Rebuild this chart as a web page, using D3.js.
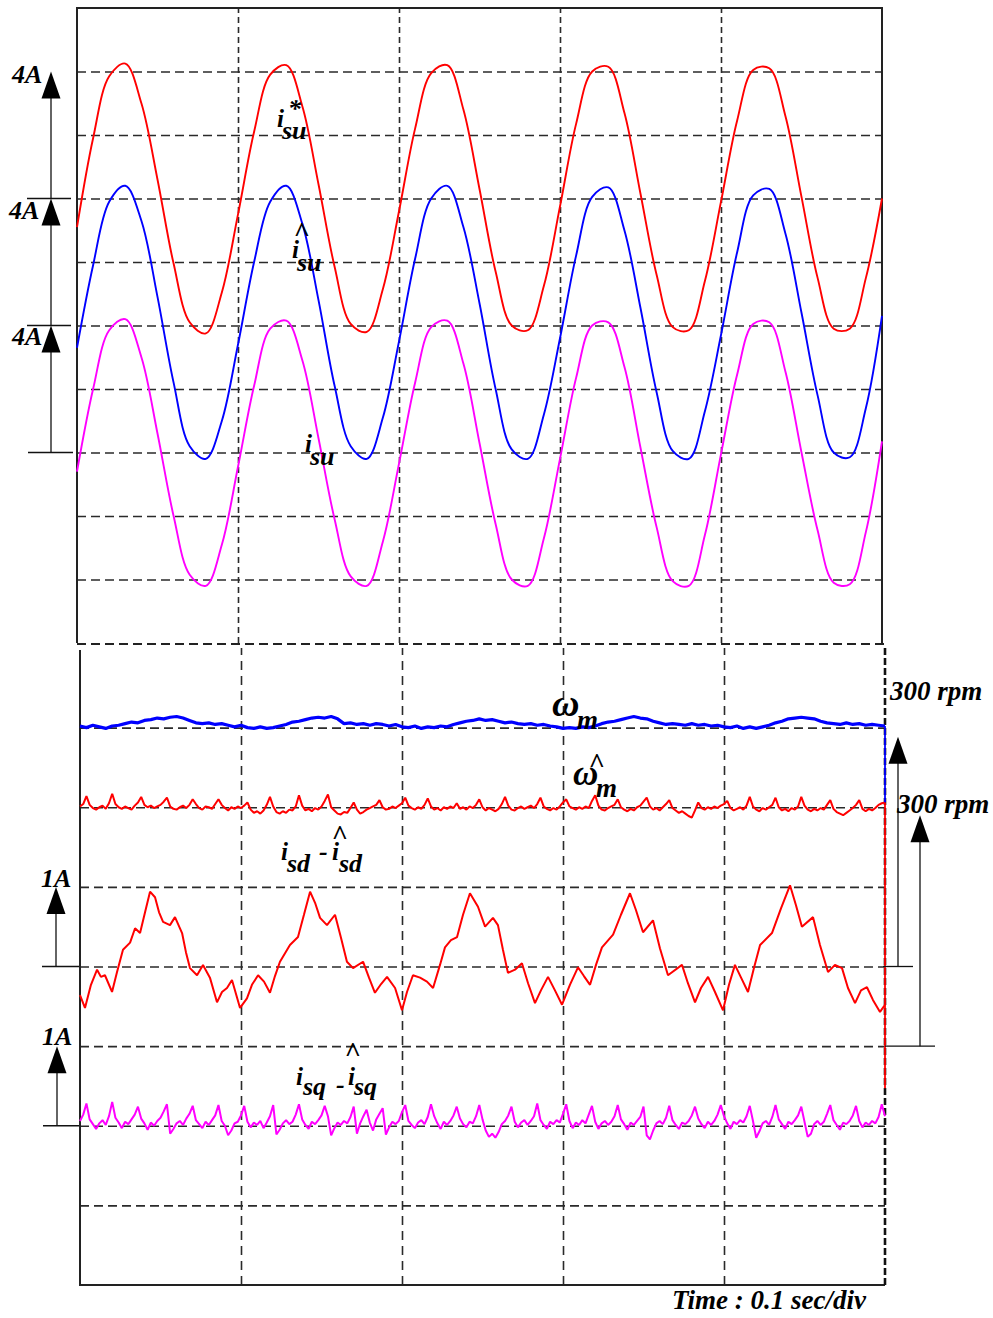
<!DOCTYPE html>
<html>
<head>
<meta charset="utf-8">
<script src="https://cdn.jsdelivr.net/npm/d3@7/dist/d3.min.js"></script>
<style>
body { margin: 0; background: white; }
</style>
</head>
<body>
<div id="scope"></div>
<script>
const width = 993;
const height = 1318;
const serif = "'Liberation Serif', 'Times New Roman', serif";

// sample times in ms
const tSine = [0,10,20,30,40,50,60,70,80,90,100,110,120,130,140,150,160,170,180,190,200,
  210,220,230,240,250,260,270,280,290,300,310,320,330,340,350,360,370,380,390,400,
  410,420,430,440,450,460,470,480,490,500];

const tNoise = [0,4,8,12,16,20,24,28,32,36,40,44,48,52,56,60,64,68,72,76,80,84,88,92,96,
  100,104,108,112,116,120,124,128,132,136,140,144,148,152,156,160,164,168,172,176,180,184,188,192,196,
  200,204,208,212,216,220,224,228,232,236,240,244,248,252,256,260,264,268,272,276,280,284,288,292,296,
  300,304,308,312,316,320,324,328,332,336,340,344,348,352,356,360,364,368,372,376,380,384,388,392,396,
  400,404,408,412,416,420,424,428,432,436,440,444,448,452,456,460,464,468,472,476,480,484,488,492,496,500];

const tFine = [0,2,4,6,8,10,12,14,16,18,20,22,24,26,28,30,32,34,36,38,40,42,44,46,48,
  50,52,54,56,58,60,62,64,66,68,70,72,74,76,78,80,82,84,86,88,90,92,94,96,98,
  100,102,104,106,108,110,112,114,116,118,120,122,124,126,128,130,132,134,136,138,140,142,144,146,148,
  150,152,154,156,158,160,162,164,166,168,170,172,174,176,178,180,182,184,186,188,190,192,194,196,198,
  200,202,204,206,208,210,212,214,216,218,220,222,224,226,228,230,232,234,236,238,240,242,244,246,248,
  250,252,254,256,258,260,262,264,266,268,270,272,274,276,278,280,282,284,286,288,290,292,294,296,298,
  300,302,304,306,308,310,312,314,316,318,320,322,324,326,328,330,332,334,336,338,340,342,344,346,348,
  350,352,354,356,358,360,362,364,366,368,370,372,374,376,378,380,382,384,386,388,390,392,394,396,398,
  400,402,404,406,408,410,412,414,416,418,420,422,424,426,428,430,432,434,436,438,440,442,444,446,448,
  450,452,454,456,458,460,462,464,466,468,470,472,474,476,478,480,482,484,486,488,490,492,494,496,498,500];

// phase currents (A)
const isuRef = [-0.9,1.9,3.85,4.25,3.0,0.6,-2.05,-3.9,-4.25,-2.95,-0.5,2.1,3.9,4.2,2.9,0.45,-2.15,-3.95,-4.2,-2.85,
  -0.4,2.2,3.95,4.2,2.8,0.3,-2.3,-4.0,-4.15,-2.75,-0.25,2.35,4.0,4.15,2.7,0.15,-2.4,-4.05,-4.15,-2.6,
  -0.1,2.45,4.05,4.1,2.6,0.05,-2.5,-4.1,-4.1,-2.5,0.0];
const isuEst = [-0.7,1.9,3.9,4.4,3.3,0.9,-1.8,-3.8,-4.2,-3.0,-0.6,2.0,3.9,4.4,3.2,0.8,-1.9,-3.8,-4.2,-2.9,
  -0.5,2.1,4.0,4.4,3.1,0.7,-2.0,-3.9,-4.2,-2.8,-0.4,2.2,4.05,4.35,3.0,0.55,-2.1,-3.95,-4.2,-2.7,
  -0.3,2.3,4.1,4.3,2.9,0.4,-2.2,-4.0,-4.15,-2.6,0.3];
const isu = [-0.6,2.0,3.85,4.2,3.0,0.6,-2.0,-3.85,-4.2,-2.9,-0.45,2.1,3.9,4.15,2.9,0.45,-2.1,-3.9,-4.2,-2.8,
  -0.35,2.2,3.95,4.15,2.8,0.3,-2.25,-4.0,-4.2,-2.7,-0.2,2.35,4.0,4.1,2.7,0.15,-2.35,-4.05,-4.2,-2.6,
  -0.05,2.45,4.05,4.1,2.55,0.0,-2.45,-4.1,-4.15,-2.5,0.35];

// speeds (rpm)
const wm = [302,300,303,301,299,302,303,305,307,306,309,310,312,311,313,314,312,309,306,305,
  306,304,305,303,301,303,300,299,301,299,300,302,304,307,308,310,312,313,312,314,
  311,305,306,304,305,303,305,304,302,304,301,300,302,299,301,300,302,301,304,306,
  308,309,311,309,310,308,306,307,305,304,305,303,304,302,301,299,300,299,301,300,
  302,305,307,308,310,312,314,312,311,308,306,304,305,304,303,305,303,304,302,303,
  301,300,302,299,301,299,301,303,306,308,311,312,313,312,311,308,306,305,304,306,
  304,305,303,304,303,302];
const wmEst = [301,304,314,303,299,297,300,302,298,305,317,304,300,298,301,299,297,302,306,313,303,300,302,299,301,
  303,307,312,301,298,297,300,302,299,303,310,304,299,297,301,300,298,304,310,303,299,296,300,298,301,
  299,302,306,297,293,295,292,296,303,313,301,294,292,295,293,297,296,301,315,302,296,298,295,299,297,
  301,308,316,300,296,292,291,294,293,299,306,297,292,294,297,299,301,303,309,300,297,298,301,299,302,
  305,312,302,299,297,300,298,303,311,301,297,299,296,300,298,301,299,305,298,300,297,301,299,303,310,
  300,296,299,297,295,298,304,313,302,297,296,299,301,298,300,302,299,304,312,301,298,296,299,297,301,
  306,310,301,299,297,300,298,301,299,308,315,302,297,296,299,301,303,310,300,297,295,298,296,300,302,
  307,312,301,297,299,296,300,304,309,299,296,293,295,292,289,287,296,306,299,297,300,298,301,299,302,
  304,308,299,296,298,300,297,302,313,301,297,295,299,297,300,303,312,300,296,298,295,299,297,301,313,
  302,297,295,298,296,299,297,303,309,298,294,292,290,293,296,299,303,309,298,295,298,296,299,303,305,306];

// current errors (A)
const isdErr = [[0,-0.36],[3.1,-0.52],[6.8,-0.23],[10.6,-0.04],[13.0,-0.13],[15.5,-0.11],[19.9,-0.32],[23.0,-0.07],
  [26.7,0.21],[31.1,0.30],[34.2,0.48],[37.3,0.42],[40.4,0.68],[43.5,0.94],[46.6,0.87],[49.1,0.68],[51.6,0.56],
  [55.9,0.52],[59.0,0.62],[63.4,0.42],[65.8,0.18],[68.3,-0.02],[72.7,-0.11],[76.4,0.02],[80.7,-0.14],[85.1,-0.45],
  [88.2,-0.32],[91.3,-0.27],[94.4,-0.17],[99.4,-0.52],[103.7,-0.40],[106.8,-0.23],[110.6,-0.11],[114.3,-0.19],
  [118.0,-0.33],[121.1,-0.12],[124.2,0.06],[130.4,0.27],[135.4,0.37],[139.1,0.65],[142.9,0.94],[146.0,0.80],
  [149.1,0.61],[153.4,0.52],[158.4,0.65],[162.1,0.36],[165.8,0.06],[169.6,-0.02],[175.8,0.06],[179.5,-0.14],
  [183.2,-0.33],[187.0,-0.22],[190.7,-0.13],[195.7,-0.27],[200.0,-0.55],[203.1,-0.32],[206.8,-0.11],[211.2,-0.14],
  [215.5,-0.19],[219.3,-0.27],[223.6,0.02],[226.7,0.24],[230.4,0.33],[234.2,0.37],[237.9,0.65],[242.2,0.92],
  [247.2,0.75],[251.6,0.50],[256.5,0.61],[259.6,0.52],[262.7,0.21],[265.8,-0.08],[270.2,-0.04],[274.5,0.04],
  [278.3,-0.21],[282.6,-0.46],[286.3,-0.30],[290.7,-0.13],[295.0,-0.30],[299.4,-0.48],[304.3,-0.23],[309.3,-0.01],
  [313.0,-0.12],[316.8,-0.23],[320.5,0.02],[324.2,0.24],[331.1,0.40],[336.0,0.65],[341.6,0.92],[345.3,0.71],
  [349.7,0.43],[355.9,0.58],[360.2,0.23],[365.2,-0.11],[373.9,0.02],[377.6,-0.21],[382.0,-0.45],[385.7,-0.27],
  [390.1,-0.13],[394.4,-0.32],[399.4,-0.55],[403.1,-0.23],[406.8,0.02],[410.6,-0.14],[414.9,-0.32],[418.6,-0.02],
  [422.4,0.27],[429.8,0.42],[435.4,0.73],[441.0,1.02],[444.7,0.77],[448.4,0.50],[455.3,0.62],[459.6,0.27],
  [464.6,-0.07],[468.9,0.02],[473.3,-0.02],[477.0,-0.27],[481.4,-0.46],[485.1,-0.30],[488.8,-0.26],[492.5,-0.42],
  [496.9,-0.57],[500,-0.48]];
const isqErr = [0.06,0.14,0.28,0.08,0.02,-0.04,0.03,0.07,0.01,0.12,0.30,0.10,0.04,-0.03,0.05,0.02,0.08,0.14,0.24,0.09,0.03,-0.05,0.04,0.00,0.06,
  0.10,0.18,0.27,-0.10,-0.04,0.03,0.06,0.01,0.09,0.15,0.25,0.07,0.02,-0.03,0.05,0.01,0.07,0.13,0.26,0.06,0.00,-0.12,-0.06,0.03,0.05,
  0.13,0.25,0.05,-0.02,0.04,0.01,0.06,-0.03,0.04,0.12,0.26,-0.11,-0.05,0.03,0.07,0.02,0.05,0.14,0.27,0.08,0.01,-0.04,0.05,0.02,0.07,
  0.13,0.25,0.12,-0.12,-0.03,0.04,0.01,0.06,0.03,0.11,0.24,-0.10,0.03,0.12,0.20,0.04,-0.06,0.08,0.15,0.22,-0.11,-0.02,0.05,0.02,0.06,
  0.17,0.26,0.06,0.01,-0.03,0.04,0.07,0.02,0.11,0.27,0.12,0.03,-0.04,0.05,0.01,0.06,0.13,0.24,0.09,0.02,-0.02,0.05,0.03,0.12,0.26,
  0.08,-0.06,-0.14,-0.10,-0.15,-0.08,0.02,0.06,0.13,0.24,0.05,-0.02,0.04,0.07,0.01,0.06,0.12,0.28,0.07,0.01,-0.04,0.05,0.02,0.07,0.04,
  0.15,0.27,0.06,-0.03,0.04,0.01,0.07,0.03,0.14,0.25,0.05,-0.04,0.03,0.06,0.01,0.05,0.12,0.26,0.08,0.02,-0.05,0.04,0.01,0.06,0.11,
  0.24,-0.12,-0.17,-0.06,0.03,0.06,0.02,0.10,0.25,0.07,0.01,-0.04,0.04,0.02,0.06,0.13,0.24,0.09,0.02,-0.03,0.05,0.01,0.06,0.14,0.26,
  0.12,0.03,-0.04,0.05,0.02,0.07,0.04,0.12,0.25,0.06,-0.15,-0.07,0.03,0.06,0.01,0.11,0.26,0.08,0.02,-0.04,0.05,0.02,0.07,0.13,0.24,
  0.05,-0.14,-0.10,0.02,0.06,0.01,0.05,0.15,0.26,0.07,0.01,-0.05,0.04,0.02,0.06,0.13,0.25,0.06,-0.02,0.04,0.01,0.06,0.03,0.11,0.27,0.12];

const svg = d3.select('#scope')
              .append('svg')
              .attr('width', width)
              .attr('height', height)
              .style('background', 'white');

// top panel: 2 A/div, 10 divisions
const xTop = d3.scaleLinear().domain([0, 500]).range([77, 882]);
const yTop = d3.scaleLinear().domain([0, 20]).range([643, 8]);

// bottom panel: 8 divisions (100 rpm/div, 1 A/div)
const xBot = d3.scaleLinear().domain([0, 500]).range([80, 885]);
const yBot = d3.scaleLinear().domain([0, 8]).range([1285, 648]);

function grid(g, dash) {
    g.select('.domain').remove();
    g.selectAll('.tick line')
     .attr('stroke', '#2a2a2a')
     .attr('stroke-width', 1.6)
     .attr('stroke-dasharray', dash);
}

svg.append('g')
   .attr('transform', `translate(${xTop(0)},0)`)
   .call(d3.axisLeft(yTop).tickValues([2,4,6,8,10,12,14,16,18]).tickSize(-(xTop(500) - xTop(0))).tickFormat(''))
   .call(grid, '9,5');
svg.append('g')
   .attr('transform', `translate(0,${yTop(0)})`)
   .call(d3.axisBottom(xTop).tickValues([100,200,300,400]).tickSize(-(yTop(0) - yTop(20))).tickFormat(''))
   .call(grid, '6,4');

svg.append('g')
   .attr('transform', `translate(${xBot(0)},0)`)
   .call(d3.axisLeft(yBot).tickValues([1,2,3,4,5,6,7]).tickSize(-(xBot(500) - xBot(0))).tickFormat(''))
   .call(grid, '9,5');
svg.append('g')
   .attr('transform', `translate(0,${yBot(0)})`)
   .call(d3.axisBottom(xBot).tickValues([100,200,300,400]).tickSize(-(yBot(0) - yBot(8))).tickFormat(''))
   .call(grid, '9,6');

// frames
svg.append('path')
   .attr('d', `M${xTop(0)},${yTop(0)}V${yTop(20)}H${xTop(500)}V${yTop(0)}`)
   .attr('fill', 'none').attr('stroke', '#222').attr('stroke-width', 2);
svg.append('line')
   .attr('x1', xTop(0)).attr('x2', xBot(500)).attr('y1', 644).attr('y2', 644)
   .attr('stroke', '#222').attr('stroke-width', 2).attr('stroke-dasharray', '9,5');
svg.append('path')
   .attr('d', `M${xBot(0)},${yBot(8) + 2}V${yBot(0)}H${xBot(500)}`)
   .attr('fill', 'none').attr('stroke', '#222').attr('stroke-width', 2);
svg.append('line')
   .attr('x1', xBot(500)).attr('x2', xBot(500)).attr('y1', yBot(8)).attr('y2', yBot(0))
   .attr('stroke', '#111').attr('stroke-width', 2.6).attr('stroke-dasharray', '7,3');

// traces
const lineTop = d3.line().x(d => xTop(d[0])).y(d => yTop(d[1])).curve(d3.curveCatmullRom);
const lineBot = d3.line().x(d => xBot(d[0])).y(d => yBot(d[1]));

function topTrace(vals, offset, color) {
    svg.append('path')
       .datum(tSine.map((t, i) => [t, offset + vals[i]]))
       .attr('d', lineTop)
       .attr('fill', 'none')
       .attr('stroke', color)
       .attr('stroke-width', 1.9);
}
topTrace(isuRef, 14, '#ff0000');
topTrace(isuEst, 10, '#0000ff');
topTrace(isu, 6, '#ff00ff');

function botTrace(points, color, sw) {
    svg.append('path')
       .datum(points)
       .attr('d', lineBot)
       .attr('fill', 'none')
       .attr('stroke', color)
       .attr('stroke-width', sw)
       .attr('stroke-linejoin', 'bevel');
}
botTrace(tNoise.map((t, i) => [t, 4 + wm[i] / 100]), '#0000ff', 3.2);
botTrace(tFine.map((t, i) => [t, 3 + wmEst[i] / 100]), '#ff0000', 2);
botTrace(isdErr.map(d => [d[0], 4 + d[1]]), '#ff0000', 2);
botTrace(tFine.map((t, i) => [t, 2 + isqErr[i]]), '#ff00ff', 2);

// retrace at the right edge
botTrace([[500, 4 + wm[wm.length - 1] / 100], [500, 3 + wmEst[wmEst.length - 1] / 100]], '#0000ff', 1.8);
botTrace([[500, 3 + wmEst[wmEst.length - 1] / 100], [500, 2.47]], '#ff0000', 1.8);

// scale arrows
function arrow(x, yBase, yTip, tx1, tx2) {
    svg.append('line')
       .attr('x1', x).attr('x2', x).attr('y1', yBase).attr('y2', yTip + 20)
       .attr('stroke', '#111').attr('stroke-width', 1.3);
    svg.append('path')
       .attr('d', `M${x},${yTip}L${x - 9.5},${yTip + 27}L${x + 9.5},${yTip + 27}Z`)
       .attr('fill', '#000');
    svg.append('line')
       .attr('x1', tx1).attr('x2', tx2).attr('y1', yBase).attr('y2', yBase)
       .attr('stroke', '#111').attr('stroke-width', 1.3);
}
arrow(51, yTop(14), yTop(18), 27, 71);
arrow(51, yTop(10), yTop(14), 27, 71);
arrow(51, yTop(6), yTop(10), 28, 73);
arrow(56, yBot(4), yBot(5), 42, 79);
arrow(57, yBot(2), yBot(3), 43, 79);
arrow(898, yBot(4), yBot(7) + 9, 883, 913);
arrow(920, yBot(3), yBot(6) + 8, 885, 935);

// labels: one text per label, pieces placed as tspans [x, y, str, size, isHat]
function label(parts) {
    const t = svg.append('text')
                 .style('font-family', serif)
                 .style('font-weight', 'bold')
                 .style('font-style', 'italic');
    parts.forEach(p => {
        t.append('tspan')
         .attr('x', p[0])
         .attr('y', p[1])
         .attr('text-anchor', p[4] ? 'middle' : 'start')
         .style('font-style', p[4] ? 'normal' : 'italic')
         .style('font-size', p[3] + 'px')
         .text(p[2]);
    });
}

label([[12, 83, '4A', 26]]);
label([[9, 219, '4A', 26]]);
label([[12, 345, '4A', 26]]);
label([[41, 887, '1A', 26]]);
label([[42, 1045, '1A', 26]]);
label([[890, 700, '300 rpm', 27]]);
label([[897, 813, '300 rpm', 27]]);
label([[672, 1309, 'Time : 0.1 sec/div', 27]]);

label([[277, 127, 'i', 25], [288, 117, '*', 26], [282, 139, 'su', 26]]);
label([[302, 241, '^', 28, true], [292, 258, 'i', 25], [297, 271, 'su', 26]]);
label([[305, 452, 'i', 25], [310, 465, 'su', 26]]);

label([[552, 716, 'ω', 38], [577, 729, 'm', 27]]);
label([[597, 772, '^', 28, true], [573, 785, 'ω', 35], [596, 797, 'm', 27]]);

label([[281, 860, 'i', 25], [287, 872, 'sd', 26], [319, 860, '-', 26],
       [340, 844, '^', 28, true], [332, 860, 'i', 25], [339, 872, 'sd', 26]]);
label([[296, 1085, 'i', 25], [303, 1095, 'sq', 26], [336, 1093, '-', 26],
       [353, 1061, '^', 28, true], [348, 1085, 'i', 25], [354, 1095, 'sq', 26]]);
</script>
</body>
</html>
